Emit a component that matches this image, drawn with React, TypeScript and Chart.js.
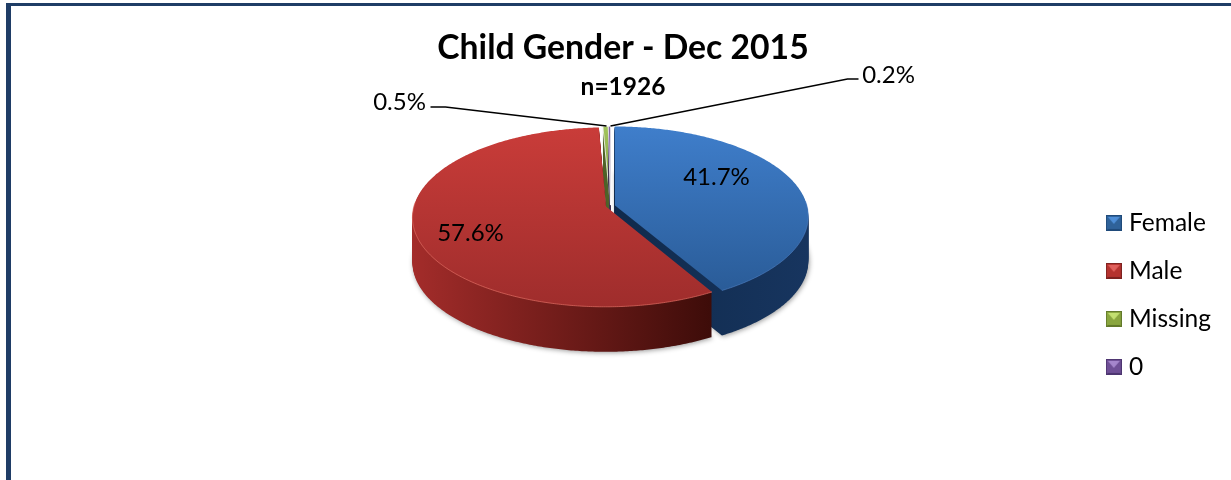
import React, { useEffect, useRef } from "react";
import { Chart, registerables } from "chart.js";

Chart.register(...registerables);

const categories = ["Female", "Male", "Missing", "0"];
const shares = [41.7, 57.6, 0.5, 0.2];
const titleText = "Child Gender - Dec 2015";
const subtitleText = "n=1926";

const FONT = "Lato, Carlito, Calibri, sans-serif";
const topColors = [["#3f7ecb", "#2a5c98"], ["#c93c39", "#9f2d2c"], ["#a2c45c", "#7a9a3e"], ["#8064a2", "#6a4f8a"]];
const sideColors = [["#102a4c", "#17355f"], ["#a32c2a", "#3d0c09"], ["#4f6228", "#4f6228"], ["#3f3151", "#3f3151"]];
const rimColors = ["rgba(90,140,210,0.5)", "rgba(225,110,100,0.7)", "rgba(0,0,0,0)", "rgba(0,0,0,0)"];
const legendColors = [["#4f8fd8", "#2f6299", "#1f4a7a"], ["#e0605c", "#b5332f", "#7d2220"], ["#c3e070", "#8aa63f", "#62792a"], ["#a586cc", "#6f4f96", "#4d3570"]];
const explode = [4.7, 4.7, 2, 2];
const drawOrder = [0, 2, 3, 1];

const view = { x: 610.5, y: 206, tilt: 0.46, perspective: 0.117, depth: 45 };
// label placement relative to the pie centre; leader = path back to the slice
const labelPlacement = [
  { dx: 106, dy: -29 },
  { dx: -140, dy: 27 },
  { dx: -211, dy: -104, leader: [[-180, -99], [-165, -99], [-4, -80]] },
  { dx: 278, dy: -131, leader: [[248, -127], [237, -127], [0, -80]] },
];

function marker(c: string[]) {
  const cv = document.createElement("canvas");
  cv.width = 16;
  cv.height = 16;
  const g = cv.getContext("2d")!;
  g.fillStyle = c[1];
  g.fillRect(0, 0, 16, 16);
  g.fillStyle = c[0];
  g.beginPath();
  g.moveTo(2, 2);
  g.lineTo(14, 2);
  g.lineTo(8, 9);
  g.closePath();
  g.fill();
  g.fillStyle = c[2];
  g.beginPath();
  g.moveTo(0, 16);
  g.lineTo(16, 16);
  g.lineTo(14, 14);
  g.lineTo(2, 14);
  g.closePath();
  g.fill();
  g.strokeStyle = c[2];
  g.lineWidth = 1;
  g.strokeRect(0.5, 0.5, 15, 15);
  return cv;
}

const pie3d = {
  id: "pie3d",
  beforeDatasetsDraw(chart: any) {
    const ctx: CanvasRenderingContext2D = chart.ctx;
    const arcs = chart.getDatasetMeta(0).data;
    const R = arcs[0].outerRadius;
    const rx = R;
    const ry = R * view.tilt;
    const project = (u: number, v: number) => {
      const w = 1 - view.perspective * v;
      return [view.x + (rx * u) / w, view.y + (ry * v) / w];
    };
    const slicePoints = (el: any) => {
      const mid = (el.startAngle + el.endAngle) / 2;
      const off = (el.options.offset || 0) / R;
      const ou = Math.cos(mid) * off;
      const ov = Math.sin(mid) * off;
      const n = Math.max(2, Math.ceil((el.endAngle - el.startAngle) / 0.01));
      const pts = [project(ou, ov)];
      const rim: number[][] = [];
      for (let i = 0; i <= n; i++) {
        const a = el.startAngle + ((el.endAngle - el.startAngle) * i) / n;
        const p = project(ou + Math.cos(a), ov + Math.sin(a));
        pts.push(p);
        if (Math.sin(a) > -0.05) rim.push(p);
      }
      return { pts, rim };
    };
    const trace = (pts: number[][], dy: number) => {
      ctx.beginPath();
      pts.forEach((p, i) => (i ? ctx.lineTo(p[0], p[1] + dy) : ctx.moveTo(p[0], p[1] + dy)));
      ctx.closePath();
    };
    ctx.save();
    for (const i of drawOrder) {
      const { pts, rim } = slicePoints(arcs[i]);
      const xs = pts.map((p) => p[0]);
      const ys = pts.map((p) => p[1]);
      const side = ctx.createLinearGradient(Math.min(...xs), 0, Math.max(...xs), 0);
      side.addColorStop(0, sideColors[i][0]);
      side.addColorStop(1, sideColors[i][1]);
      ctx.fillStyle = side;
      for (let d = view.depth; d >= 1; d--) {
        if (d === view.depth && i < 2) {
          ctx.shadowColor = "rgba(0,0,0,0.4)";
          ctx.shadowBlur = 5;
          ctx.shadowOffsetX = 1;
          ctx.shadowOffsetY = 1;
        }
        trace(pts, d);
        ctx.fill();
        ctx.shadowColor = "transparent";
        ctx.shadowBlur = 0;
        ctx.shadowOffsetX = 0;
        ctx.shadowOffsetY = 0;
      }
      const top = ctx.createLinearGradient(0, Math.min(...ys), 0, Math.max(...ys));
      top.addColorStop(0, topColors[i][0]);
      top.addColorStop(1, topColors[i][1]);
      ctx.fillStyle = top;
      trace(pts, 0);
      ctx.fill();
      if (i >= 2) {
        ctx.strokeStyle = "#ffffff";
        ctx.lineWidth = 0.8;
        ctx.stroke();
      }
      ctx.strokeStyle = rimColors[i];
      ctx.lineWidth = 1;
      ctx.beginPath();
      rim.forEach((p, k) => (k ? ctx.lineTo(p[0], p[1]) : ctx.moveTo(p[0], p[1])));
      ctx.stroke();
    }
    // value labels and leader lines
    ctx.fillStyle = "#000";
    ctx.strokeStyle = "#000";
    ctx.lineWidth = 1.4;
    ctx.textAlign = "center";
    ctx.textBaseline = "middle";
    ctx.font = `24px ${FONT}`;
    shares.forEach((s, i) => {
      const l: any = labelPlacement[i];
      if (l.leader) {
        ctx.beginPath();
        l.leader.forEach((p: number[], k: number) =>
          k ? ctx.lineTo(view.x + p[0], view.y + p[1]) : ctx.moveTo(view.x + p[0], view.y + p[1])
        );
        ctx.stroke();
      }
      ctx.fillText(`${s.toFixed(1)}%`, view.x + l.dx, view.y + l.dy);
    });
    ctx.restore();
    return false;
  },
};

export default function App() {
  const ref = useRef<HTMLCanvasElement>(null);
  useEffect(() => {
    document.body.style.margin = "0";
    document.body.style.background = "#fff";
    const markers = legendColors.map(marker);
    const chart = new Chart(ref.current!, {
      type: "pie",
      data: {
        labels: categories,
        datasets: [
          {
            data: shares,
            backgroundColor: topColors.map((c) => c[0]),
            offset: explode,
            radius: 192,
            borderWidth: 0,
            rotation: 0,
          } as any,
        ],
      },
      plugins: [pie3d],
      options: {
        responsive: false,
        animation: false,
        layout: { padding: { left: 25, right: 10, top: 0, bottom: 0 } },
        plugins: {
          tooltip: { enabled: false },
          title: {
            display: true,
            text: titleText,
            color: "#000",
            font: { family: FONT, size: 33.7, weight: "bold", lineHeight: 1.2 },
            padding: { top: 28, bottom: 4 },
          },
          subtitle: {
            display: true,
            text: subtitleText,
            color: "#000",
            font: { family: FONT, size: 24.5, weight: "bold", lineHeight: 1.2 },
            padding: { top: 0, bottom: 8 },
          },
          legend: {
            position: "right",
            fullSize: false,
            labels: {
              color: "#000",
              font: { family: FONT, size: 24.5 },
              padding: 23.5,
              boxWidth: 6,
              usePointStyle: true,
              generateLabels: () =>
                categories.map((text, i) => ({
                  text,
                  pointStyle: markers[i],
                  fillStyle: topColors[i][0],
                  strokeStyle: "transparent",
                  lineWidth: 0,
                  hidden: false,
                  index: i,
                })),
            },
          },
        },
      } as any,
    });
    return () => chart.destroy();
  }, []);
  return (
    <div style={{ position: "relative", width: 1231, height: 480, overflow: "hidden" }}>
      <canvas ref={ref} width={1231} height={480} style={{ display: "block" }} />
      <div
        style={{
          position: "absolute",
          left: 6,
          top: 3,
          right: 0,
          bottom: 0,
          borderLeft: "5px solid #1f3d66",
          borderTop: "3px solid #1f3d66",
          pointerEvents: "none",
        }}
      />
    </div>
  );
}
